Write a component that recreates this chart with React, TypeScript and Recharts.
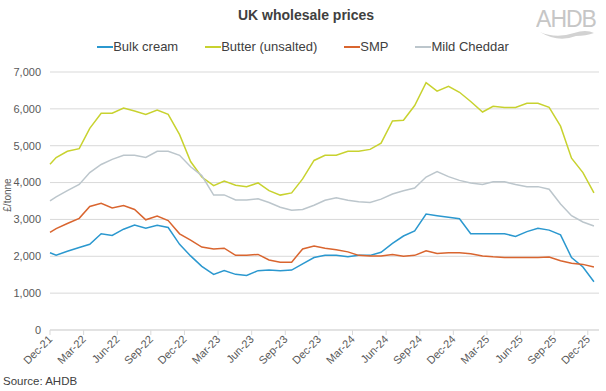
import { LineChart, Line, XAxis, YAxis, CartesianGrid, Legend } from "recharts";

const FONT = "'Liberation Sans', Arial, sans-serif";

// first point sits at the start of Dec-21, the rest are mid-month quotes
const dates = [
  "2021-12-01", "2021-12-18", "2022-01-18", "2022-02-18", "2022-03-18", "2022-04-18",
  "2022-05-18", "2022-06-18", "2022-07-18", "2022-08-18", "2022-09-18", "2022-10-18",
  "2022-11-18", "2022-12-18", "2023-01-18", "2023-02-18", "2023-03-18", "2023-04-18",
  "2023-05-18", "2023-06-18", "2023-07-18", "2023-08-18", "2023-09-18", "2023-10-18",
  "2023-11-18", "2023-12-18", "2024-01-18", "2024-02-18", "2024-03-18", "2024-04-18",
  "2024-05-18", "2024-06-18", "2024-07-18", "2024-08-18", "2024-09-18", "2024-10-18",
  "2024-11-18", "2024-12-18", "2025-01-18", "2025-02-18", "2025-03-18", "2025-04-18",
  "2025-05-18", "2025-06-18", "2025-07-18", "2025-08-18", "2025-09-18", "2025-10-18",
  "2025-11-18", "2025-12-18",
];

const bulkCream = [
  2095, 2030, 2135, 2240, 2325, 2610, 2565, 2735, 2845, 2760,
  2840, 2780, 2325, 2010, 1725, 1510, 1610, 1510, 1480, 1610,
  1625, 1610, 1625, 1795, 1965, 2030, 2025, 1990, 2030, 2025,
  2110, 2350, 2550, 2690, 3145, 3100, 3060, 3020, 2610, 2610,
  2610, 2610, 2540, 2670, 2760, 2710, 2580, 1965, 1710, 1310,
];

const butter = [
  4500, 4680, 4850, 4920, 5470, 5880, 5880, 6020, 5940, 5850,
  5970, 5850, 5300, 4570, 4150, 3915, 4040, 3930, 3890, 3990,
  3780, 3660, 3720, 4100, 4600, 4740, 4740, 4850, 4850, 4900,
  5070, 5670, 5690, 6090, 6710, 6480, 6610, 6450, 6200, 5915,
  6070, 6040, 6040, 6150, 6150, 6040, 5530, 4660, 4270, 3720,
];

const smp = [
  2650, 2750, 2890, 3030, 3350, 3440, 3310, 3380, 3270, 2990,
  3090, 2970, 2610, 2440, 2250, 2200, 2220, 2025, 2025, 2050,
  1900, 1840, 1840, 2200, 2280, 2220, 2180, 2120, 2025, 2010,
  2010, 2050, 2000, 2025, 2150, 2075, 2095, 2095, 2070, 2010,
  1985, 1965, 1965, 1965, 1965, 1980, 1880, 1810, 1780, 1710,
];

const cheddar = [
  3505, 3610, 3780, 3950, 4270, 4490, 4630, 4740, 4740, 4680,
  4850, 4850, 4740, 4430, 4190, 3660, 3665, 3530, 3530, 3560,
  3460, 3330, 3250, 3270, 3385, 3520, 3590, 3520, 3480, 3460,
  3550, 3690, 3780, 3850, 4150, 4300, 4160, 4060, 3990, 3950,
  4020, 4020, 3950, 3890, 3890, 3820, 3420, 3100, 2930, 2820,
];

const tickLabels = [
  "Dec-21", "Mar-22", "Jun-22", "Sep-22", "Dec-22", "Mar-23", "Jun-23", "Sep-23", "Dec-23",
  "Mar-24", "Jun-24", "Sep-24", "Dec-24", "Mar-25", "Jun-25", "Sep-25", "Dec-25",
];
const yTicks = [0, 1000, 2000, 3000, 4000, 5000, 6000, 7000];

const series = [
  { key: "cream", name: "Bulk cream", color: "#2B98CF" },
  { key: "butter", name: "Butter (unsalted)", color: "#C8D22F" },
  { key: "smp", name: "SMP", color: "#D9652F" },
  { key: "cheddar", name: "Mild Cheddar", color: "#BCC6CC" },
];

// months elapsed since 1 Dec 2021
function monthIndex(iso: string) {
  const [y, m, d] = iso.split("-").map(Number);
  const days = new Date(y, m, 0).getDate();
  return (y - 2021) * 12 + (m - 12) + (d - 1) / days;
}

const data = dates.map((d, i) => ({
  m: monthIndex(d),
  cream: bulkCream[i],
  butter: butter[i],
  smp: smp[i],
  cheddar: cheddar[i],
}));

const xTicks = tickLabels.map((_, i) => i * 3);

function XTick(props: any) {
  const { x, y, payload } = props;
  return (
    <text
      x={x + 3}
      y={y + 3}
      transform={`rotate(-45, ${x + 3}, ${y + 3})`}
      textAnchor="end"
      fontSize={11}
      fill="#595959"
      fontFamily={FONT}
    >
      {tickLabels[Math.round(payload.value / 3)]}
    </text>
  );
}

function LegendRow() {
  return (
    <div style={{ display: "flex", justifyContent: "center", gap: 27, fontFamily: FONT, fontSize: 13, color: "#404040" }}>
      {series.map((s) => (
        <div key={s.key} style={{ display: "flex", alignItems: "center" }}>
          <span style={{ display: "inline-block", width: 16, height: 2, background: s.color }} />
          <span>{s.name}</span>
        </div>
      ))}
    </div>
  );
}

export default function App() {
  return (
    <div style={{ position: "absolute", left: 0, top: 0, width: 606, height: 391, background: "#fff", fontFamily: FONT }}>
      <div style={{ position: "absolute", top: 7, left: 0, width: 612, textAlign: "center", fontSize: 14, fontWeight: "bold", color: "#404040" }}>
        UK wholesale prices
      </div>
      <svg style={{ position: "absolute", left: 536, top: 6 }} width={62} height={34}>
        <text x={30} y={21} textAnchor="middle" fontSize={23} fill="#c6c6c6" fontFamily={FONT} letterSpacing={-1}>
          AHDB
        </text>
        <path d="M4 26 Q 20 33 38 27 Q 50 23 58 27 Q 50 30 40 30 Q 22 37 4 26 Z" fill="#d2d2d2" />
      </svg>
      <LineChart width={606} height={391} data={data} margin={{ top: 57, right: 7, left: 0, bottom: 0 }}>
        <CartesianGrid vertical={false} stroke="#d9d9d9" />
        <XAxis
          dataKey="m"
          type="number"
          domain={[0, 49]}
          ticks={xTicks}
          interval={0}
          height={61}
          tick={<XTick />}
          tickSize={5}
          axisLine={{ stroke: "#d9d9d9" }}
          tickLine={{ stroke: "#d9d9d9" }}
        />
        <YAxis
          domain={[0, 7000]}
          ticks={yTicks}
          width={50}
          axisLine={false}
          tickLine={false}
          tickSize={0}
          tickMargin={9}
          tick={{ fontSize: 11, fill: "#595959", fontFamily: FONT }}
          tickFormatter={(v: number) => v.toLocaleString("en-GB")}
        />
        <Legend verticalAlign="top" content={<LegendRow />} wrapperStyle={{ top: 39, left: 0, width: 606 }} />
        {series.map((s) => (
          <Line
            key={s.key}
            dataKey={s.key}
            name={s.name}
            type="linear"
            stroke={s.color}
            strokeWidth={1.5}
            dot={false}
            isAnimationActive={false}
          />
        ))}
      </LineChart>
      <svg style={{ position: "absolute", left: 0, top: 170 }} width={16} height={50}>
        <text x={11} y={25} transform="rotate(-90, 11, 25)" textAnchor="middle" fontSize={10} fill="#595959" fontFamily={FONT}>
          £/tonne
        </text>
      </svg>
      <div style={{ position: "absolute", left: 3, top: 375, fontSize: 11.5, color: "#404040" }}>Source: AHDB</div>
    </div>
  );
}
